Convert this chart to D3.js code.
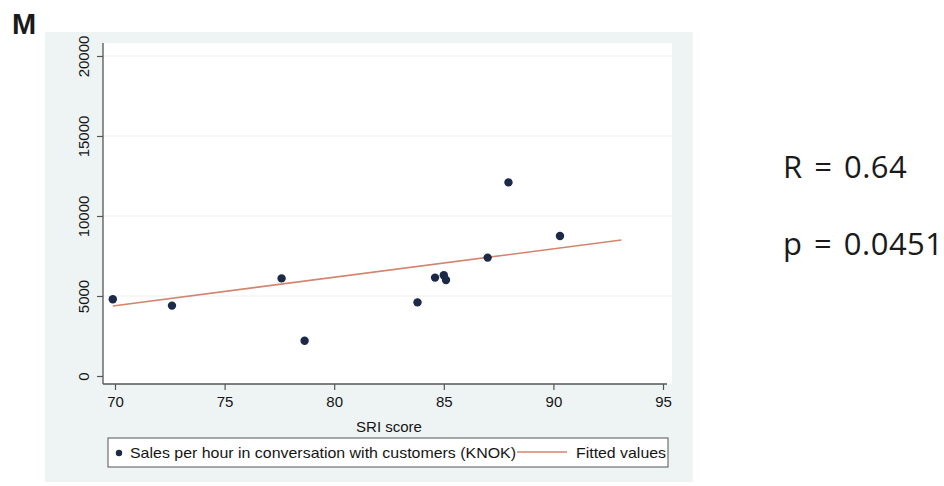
<!DOCTYPE html>
<html>
<head>
<meta charset="utf-8">
<script src="https://cdn.jsdelivr.net/npm/d3@7"></script>
<style>
  body { margin: 0; background: #fff; }
  svg { display: block; }
</style>
</head>
<body>
<div id="chart"></div>
<script>
// SRI score vs sales per hour
var sriScore = [69.9, 72.6, 77.6, 78.65, 83.8, 84.6, 85.0, 85.1, 87.0, 87.95, 90.3];
var salesPerHour = [4800, 4400, 6100, 2200, 4600, 6150, 6300, 6000, 7400, 12100, 8750];

// fitted line end points
var fitX = [69.9, 93.1];
var fitY = [4380, 8500];

var xTicks = [70, 75, 80, 85, 90, 95];
var yTicks = [0, 5000, 10000, 15000, 20000];

var width = 944, height = 486;

var svg = d3.select('#chart')
  .append('svg')
  .attr('width', width)
  .attr('height', height);

// plot frame
var plot = {left: 103, right: 672, top: 43, bottom: 384};

var x = d3.scaleLinear().domain([70, 95]).range([115, 663]);
var y = d3.scaleLinear().domain([0, 20000]).range([376, 56]);

// outer (graph) region
svg.append('rect')
  .attr('x', 45).attr('y', 32)
  .attr('width', 648).attr('height', 450)
  .attr('fill', '#eef3f4');

// inner plot region
svg.append('rect')
  .attr('x', plot.left).attr('y', plot.top)
  .attr('width', plot.right - plot.left).attr('height', plot.bottom - plot.top)
  .attr('fill', '#ffffff');

// faint grid
svg.append('g')
  .selectAll('line')
  .data(yTicks.slice(1))
  .enter().append('line')
  .attr('x1', plot.left).attr('x2', plot.right)
  .attr('y1', function(d) { return y(d); })
  .attr('y2', function(d) { return y(d); })
  .attr('stroke', '#eef1f2')
  .attr('stroke-width', 1);

// x axis
var gx = svg.append('g')
  .attr('transform', 'translate(0,' + plot.bottom + ')')
  .call(d3.axisBottom(x).tickValues(xTicks).tickSize(6).tickSizeOuter(0).tickFormat(d3.format('d')));
gx.select('.domain').remove();
gx.selectAll('line').attr('stroke', '#555').attr('stroke-width', 1.2);
gx.selectAll('text')
  .attr('y', 23)
  .attr('dy', 0)
  .attr('fill', '#151515')
  .style('font-family', 'Liberation Sans, Arial, sans-serif')
  .style('font-size', '15px');

// y axis
var gy = svg.append('g')
  .attr('transform', 'translate(' + plot.left + ',0)')
  .call(d3.axisLeft(y).tickValues(yTicks).tickSize(6).tickSizeOuter(0).tickFormat(d3.format('d')));
gy.select('.domain').remove();
gy.selectAll('line').attr('stroke', '#555').attr('stroke-width', 1.2);
gy.selectAll('text')
  .attr('x', null).attr('dy', null)
  .attr('transform', 'translate(-14,0) rotate(-90)')
  .attr('text-anchor', 'middle')
  .attr('fill', '#151515')
  .style('font-family', 'Liberation Sans, Arial, sans-serif')
  .style('font-size', '15px');

// axis lines
svg.append('line')
  .attr('x1', plot.left).attr('x2', plot.left)
  .attr('y1', plot.top).attr('y2', plot.bottom)
  .attr('stroke', '#555').attr('stroke-width', 1.3);
svg.append('line')
  .attr('x1', plot.left).attr('x2', 667)
  .attr('y1', plot.bottom).attr('y2', plot.bottom)
  .attr('stroke', '#555').attr('stroke-width', 1.3);

// x title
svg.append('text')
  .attr('x', x(82.5)).attr('y', 432)
  .attr('text-anchor', 'middle')
  .attr('fill', '#151515')
  .style('font-family', 'Liberation Sans, Arial, sans-serif')
  .style('font-size', '15px')
  .text('SRI score');

// fitted line
var line = d3.line()
  .x(function(d) { return x(d[0]); })
  .y(function(d) { return y(d[1]); });

svg.append('path')
  .datum(d3.zip(fitX, fitY))
  .attr('d', line)
  .attr('fill', 'none')
  .attr('stroke', '#d3846f')
  .attr('stroke-width', 1.6);

// points
svg.append('g')
  .selectAll('circle')
  .data(d3.zip(sriScore, salesPerHour))
  .enter().append('circle')
  .attr('cx', function(d) { return x(d[0]); })
  .attr('cy', function(d) { return y(d[1]); })
  .attr('r', 4.2)
  .attr('fill', '#1c2a48');

// legend
var legend = svg.append('g');
legend.append('rect')
  .attr('x', 108).attr('y', 438)
  .attr('width', 560).attr('height', 29)
  .attr('fill', '#ffffff')
  .attr('stroke', '#555')
  .attr('stroke-width', 1);
legend.append('circle')
  .attr('cx', 119).attr('cy', 453)
  .attr('r', 3.2)
  .attr('fill', '#1c2a48');
legend.append('text')
  .attr('x', 130).attr('y', 458)
  .attr('textLength', 386)
  .attr('lengthAdjust', 'spacingAndGlyphs')
  .attr('fill', '#151515')
  .style('font-family', 'Liberation Sans, Arial, sans-serif')
  .style('font-size', '15px')
  .text('Sales per hour in conversation with customers (KNOK)');
legend.append('line')
  .attr('x1', 517).attr('x2', 567)
  .attr('y1', 452).attr('y2', 452)
  .attr('stroke', '#d3846f')
  .attr('stroke-width', 1.6);
legend.append('text')
  .attr('x', 576).attr('y', 458)
  .attr('textLength', 90)
  .attr('lengthAdjust', 'spacingAndGlyphs')
  .attr('fill', '#151515')
  .style('font-family', 'Liberation Sans, Arial, sans-serif')
  .style('font-size', '15px')
  .text('Fitted values');

// panel letter
svg.append('text')
  .attr('x', 12).attr('y', 34)
  .attr('fill', '#1a1a1a')
  .style('font-family', 'Liberation Sans, Arial, sans-serif')
  .style('font-weight', 'bold')
  .style('font-size', '29px')
  .text('M');

// stats
var stats = ['R = 0.64', 'p = 0.0451'];
svg.append('g')
  .selectAll('text')
  .data(stats)
  .enter().append('text')
  .attr('x', 783)
  .attr('y', function(d, i) { return 178 + i * 77; })
  .attr('fill', '#1a1a1a')
  .style('font-family', 'Open Sans, Noto Sans, sans-serif')
  .style('font-size', '31px')
  .style('word-spacing', '3px')
  .style('letter-spacing', '0.5px')
  .text(function(d) { return d; });
</script>
</body>
</html>
